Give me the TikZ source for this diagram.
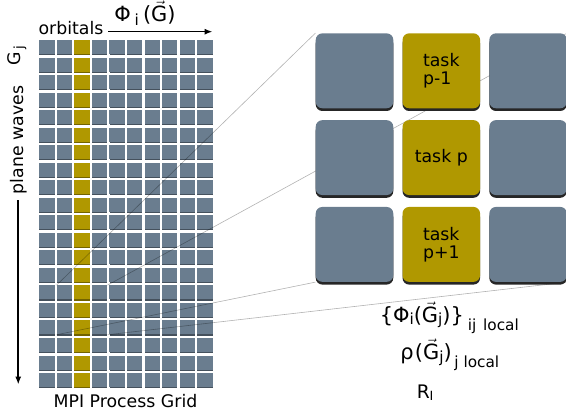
\documentclass[tikz,border=0pt]{standalone}
\usepackage{fontspec}
\setmainfont{DejaVu Sans}
\usetikzlibrary{arrows.meta}
\definecolor{cellgray}{RGB}{106,125,143}
\definecolor{cellgold}{RGB}{176,152,0}
\pgfdeclarelayer{cells}
\pgfdeclarelayer{rays}
\pgfsetlayers{cells,rays,main}
\newcommand{\vecG}{$\vec{\mbox{G}}$}
\newcommand{\lowsub}[3]{\raisebox{-#1}{\fontsize{#2}{#2}\selectfont #3}}

\begin{document}
\begin{tikzpicture}[x=0.75pt,y=0.75pt,yscale=-1,xscale=1,
  cell/.style={rectangle,minimum width=11.5pt,minimum height=10.5pt,inner sep=0pt},
  cellshadow/.style={fill=#1!65!black},
  task/.style={rectangle,rounded corners=5pt,minimum width=58.2pt,minimum height=56.2pt,
    inner sep=0pt,align=left,font=\fontsize{13}{13.5}\selectfont},
  taskshadow/.style={fill=black!85,rounded corners=5pt},
  zoomline/.style={draw=black,draw opacity=0.3,line width=0.45pt},
  axisarrow/.style={line width=1.1pt,-{Latex[length=6pt,width=4.6pt]}},
  lbl/.style={inner sep=0pt,font=\fontsize{13}{15}\selectfont},
  formula/.style={inner sep=0pt,font=\fontsize{15.7}{18}\selectfont}]
\useasboundingbox (0,0) rectangle (566,417);

%Shape: Grid of process cells
\begin{pgfonlayer}{cells}
\foreach \c in {0,...,9}{
  \foreach \r in {0,...,19}{
    \ifnum\c=2 \def\cellcol{cellgold}\else\def\cellcol{cellgray}\fi
    \fill[cellshadow=\cellcol] (39.3+17.55*\c,41+17.53*\r) rectangle (54.6+17.55*\c,55.1+17.53*\r);
    \node[cell,fill=\cellcol] (g-\c-\r) at (46.95+17.55*\c,47+17.53*\r) {};
  }
}
\end{pgfonlayer}

%Shape: Task boxes
\foreach \c in {0,1,2}{
  \foreach \r/\txt in {0/{task\\p-1},1/{task p},2/{task\\p+1}}{
    \ifnum\c=1 \def\boxcol{cellgold}\def\boxtxt{\txt}\else\def\boxcol{cellgray}\def\boxtxt{}\fi
    \fill[taskshadow] (315.7+86.8*\c,37+86.8*\r) rectangle (393.3+86.8*\c,111+86.8*\r);
    \node[task,fill=\boxcol] (t-\c-\r) at (354.5+86.8*\c,70.8+86.8*\r) {\boxtxt};
  }
}

%Straight Lines: zoom rays
\begin{pgfonlayer}{rays}
\draw[zoomline] (g-1-14.north west) -- (t-0-0.north west);
\draw[zoomline] (g-3-14.north east) -- (t-2-0.north east);
\draw[zoomline] (g-1-16.south west) -- (t-0-2.south west);
\draw[zoomline] (g-3-16.south east) -- (t-2-2.south east);
\end{pgfonlayer}

%Text: axes
\node[lbl,anchor=base west,inner xsep=3.4pt,text height=9.9pt,text depth=4.95pt] (orb) at (33.8,35) {orbitals};
\coordinate (orbend) at (orb.east -| 212.5,0);
\draw[axisarrow] (orb.east) -- (orbend);
\node[formula,anchor=base west] (phi) at (114,21.7) {Φ\hspace{3pt}\lowsub{3pt}{11.5}{i}\hspace{3pt}(\vecG)};

\node[lbl,rotate=90,anchor=base,inner xsep=4.5pt] (pw) at (23,140) {plane waves};
\coordinate (pwend) at (pw.west |- 0,384.5);
\draw[axisarrow] (pw.west) -- (pwend);
\node[lbl,rotate=90,anchor=base] (gj) at (21,55.5) {G\hspace{2pt}\lowsub{2pt}{10}{j}};

\node[lbl,anchor=base] (mpi) at (125.5,407.7) {MPI Process Grid};

%Text: local data
\node[formula,anchor=base west] (philoc) at (379.5,322.3) {\{Φ\lowsub{2pt}{11.5}{i}(\vecG\lowsub{2pt}{11.5}{j})\}\hspace{3pt}\lowsub{6pt}{11.5}{ij\hspace{5pt}local}};
\node[formula,anchor=base west] (rholoc) at (400,359.5) {ρ\hspace{1pt}(\vecG\lowsub{2pt}{11.5}{j})\hspace{2pt}\lowsub{6pt}{11.5}{j local}};
\node[formula,anchor=base west,font=\fontsize{14}{15}\selectfont] (rion) at (416.5,398.3) {R\lowsub{2pt}{9.5}{I}};

\end{tikzpicture}
\end{document}
